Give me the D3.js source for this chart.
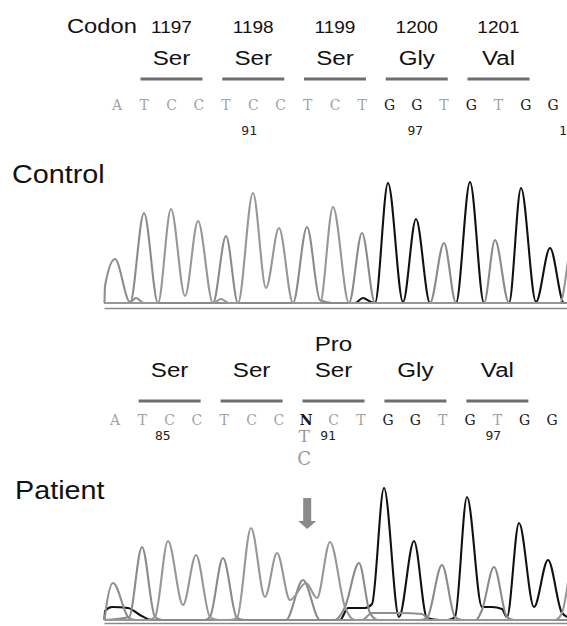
<!DOCTYPE html>
<html>
<head>
<meta charset="utf-8">
<script src="https://cdn.jsdelivr.net/npm/d3@7"></script>
<style>
  body { margin: 0; background: #fff; }
  svg { display: block; }
</style>
</head>
<body>
<script>
// ---- sequence annotation ----
const codonNumbers = ['1197', '1198', '1199', '1200', '1201'];
const aminoControl = ['Ser', 'Ser', 'Ser', 'Gly', 'Val'];
const aminoPatient = ['Ser', 'Ser', 'Ser', 'Gly', 'Val'];
const basesControl = ['A', 'T', 'C', 'C', 'T', 'C', 'C', 'T', 'C', 'T', 'G', 'G', 'T', 'G', 'T', 'G', 'G'];
const basesPatient = ['A', 'T', 'C', 'C', 'T', 'C', 'C', 'N', 'C', 'T', 'G', 'G', 'T', 'G', 'T', 'G', 'G'];
// running numbers: [position in base units, label]
const numbersControl = [[4.85, '91'], [10.95, '97'], [16.65, '103']];
const numbersPatient = [[1.75, '85'], [7.8, '91'], [13.85, '97']];
const mutantBase = 7;          // index of N in patient read
const mutantCalls = ['T', 'C'];
const mutantAmino = 'Pro';

// ---- traces: [scan, signal] ----
const controlA = [[4.5, 0], [5, 170], [15, 440], [30, 10], [36, 50], [44, 0], [470, 0]];
const controlT = [[4.5, 0], [30, 0], [44, 900], [58, 0], [113, 0], [126, 670], [138, 0], [193, 0], [207, 760], [220, 30], [232, 0],
  [249, 0], [262, 700], [275, 0], [330, 0], [344, 600], [356, 0], [384, 0], [395, 630], [409, 0], [470, 0]];
const controlC = [[4.5, 0], [58, 0], [71, 940], [85, 70], [98, 820], [113, 0], [121, 40], [129, 0], [138, 0], [153, 1100], [166, 150],
  [179, 750], [193, 0], [220, 0], [233, 960], [249, 0], [460, 0], [474, 700], [488, 0]];
const controlG = [[4.5, 0], [255, 0], [263, 50], [270, 15], [275, 0], [288, 1200], [303, 10], [316, 840], [330, 0], [356, 0],
  [370, 1210], [384, 0], [409, 0], [421, 1150], [436, 10], [450, 550], [464, 0], [470, 0]];

const patientA = [[4.5, 0], [5, 40], [13, 370], [29, 20], [36, 0], [262, 0], [272, 70], [300, 70], [322, 60], [330, 0], [470, 0]];
const patientT = [[4.5, 0], [29, 30], [42, 730], [55, 30], [62, 0], [105, 0], [110, 30], [123, 620], [137, 20], [145, 0], [186, 0],
  [203, 400], [220, 0], [235, 0], [245, 130], [259, 570], [270, 70], [278, 0], [320, 0], [327, 20], [342, 550], [355, 30],
  [362, 0], [376, 0], [382, 100], [394, 530], [407, 30], [414, 0], [470, 0]];
const patientC = [[4.5, 0], [48, 0], [55, 30], [68, 790], [83, 150], [96, 650], [110, 30], [118, 0], [130, 0], [137, 20], [151, 920],
  [165, 230], [177, 670], [190, 200], [206, 370], [217, 220], [230, 780], [245, 130], [255, 0], [455, 0], [462, 70], [474, 620], [488, 0]];
const patientG = [[4.5, 0], [5, 90], [12, 130], [28, 120], [40, 50], [52, 0], [240, 0], [248, 120], [265, 120], [272, 160],
  [284, 1320], [299, 30], [314, 790], [327, 20], [340, 0], [348, 0], [355, 30], [367, 1230], [382, 130], [392, 130], [402, 110],
  [407, 30], [419, 970], [434, 130], [448, 600], [462, 70], [470, 20]];

const width = 567, height = 626;
const sans = '"Liberation Sans", Arial, Helvetica, sans-serif';

const svg = d3.select('body').append('svg')
  .attr('width', width)
  .attr('height', height);

const scanX = d3.scaleLinear().domain([0, 470]).range([100, 570]);
const yControl = d3.scaleLinear().domain([0, 1300]).range([303, 173]);
const yPatient = d3.scaleLinear().domain([0, 1300]).range([620, 490]);
// base index -> x on the sequence line
const baseControl = d3.scaleLinear().domain([0, 16]).range([117, 553]);
const basePatient = d3.scaleLinear().domain([0, 16]).range([115, 552]);
const codonCenter = (scale, k) => scale(2 + 3 * k);

function label(g, text, x, y, size, anchor, stretch) {
  return g.append('text')
    .attr('transform', `translate(${x},${y}) scale(${stretch || 1.15},1)`)
    .attr('text-anchor', anchor || 'middle')
    .attr('fill', '#111')
    .style('font', `${size}px ${sans}`)
    .text(text);
}

function drawHeader(g, bases, baseScale, amino, numbers, ys) {
  amino.forEach((a, k) => {
    const cx = codonCenter(baseScale, k);
    label(g, a, cx, ys.amino, 21);
    g.append('rect')
      .attr('x', cx - 31)
      .attr('y', ys.bar - 1.5)
      .attr('width', 62)
      .attr('height', 3)
      .attr('fill', '#6e6e6e');
  });

  g.selectAll('text.base')
    .data(bases)
    .enter()
    .append('text')
    .attr('class', 'base')
    .attr('x', (d, i) => baseScale(i))
    .attr('y', ys.base)
    .attr('text-anchor', 'middle')
    .attr('fill', d => d === 'G' || d === 'N' ? '#1a1a1a' : '#a2a2a2')
    .style('font', d => `${d === 'N' ? 'bold ' : ''}14px "DejaVu Serif", serif`)
    .text(d => d);

  g.selectAll('text.num')
    .data(numbers)
    .enter()
    .append('text')
    .attr('class', 'num')
    .attr('x', d => baseScale(d[0]))
    .attr('y', ys.num)
    .attr('text-anchor', 'middle')
    .attr('fill', '#222')
    .style('font', `13px "DejaVu Sans Mono", monospace`)
    .text(d => d[1]);
}

function drawTraces(g, channels, yScale, axisY) {
  const line = d3.line()
    .curve(d3.curveMonotoneX)
    .x(d => scanX(d[0]))
    .y(d => yScale(d[1]));

  g.selectAll('path.trace')
    .data(channels)
    .enter()
    .append('path')
    .attr('class', 'trace')
    .attr('fill', 'none')
    .attr('stroke', d => d.color)
    .attr('stroke-width', 2.1)
    .attr('stroke-linejoin', 'round')
    .attr('d', d => line(d.data));

  const axisScale = d3.scaleLinear().domain([4, 467]).range([scanX(4), scanX(467)]);
  const axis = g.append('g')
    .attr('transform', `translate(0,${axisY})`)
    .call(d3.axisBottom(axisScale).tickValues([]).tickSizeOuter(0));
  axis.select('.domain')
    .attr('stroke', '#8a8a8a')
    .attr('stroke-width', 1.6);
}

// ---- control ----
const controlGroup = svg.append('g');
label(controlGroup, 'Codon', 67, 33, 21, 'start', 1.13);
codonNumbers.forEach((c, k) => label(controlGroup, c, codonCenter(baseControl, k), 33, 17, 'middle', 1.12));
drawHeader(controlGroup, basesControl, baseControl, aminoControl, numbersControl, { amino: 65, bar: 79, base: 110, num: 135 });
label(controlGroup, 'Control', 12, 183, 25, 'start');
drawTraces(controlGroup, [
  { color: '#111', data: controlG },
  { color: '#8e8e8e', data: controlA },
  { color: '#8a8a8a', data: controlT },
  { color: '#979797', data: controlC }
], yControl, 308);

// ---- patient ----
const patientGroup = svg.append('g');
label(patientGroup, mutantAmino, codonCenter(basePatient, 2), 351, 21);
drawHeader(patientGroup, basesPatient, basePatient, aminoPatient, numbersPatient, { amino: 377, bar: 401, base: 425, num: 440 });

const mx = basePatient(mutantBase);
patientGroup.selectAll('text.call')
  .data(mutantCalls)
  .enter()
  .append('text')
  .attr('class', 'call')
  .attr('x', mx - 2)
  .attr('y', (d, i) => 442 + i * 23)
  .attr('text-anchor', 'middle')
  .attr('fill', '#999')
  .style('font', (d, i) => `${17 + i}px "DejaVu Serif", serif`)
  .text(d => d);

patientGroup.append('rect')
  .attr('x', mx - 3)
  .attr('y', 498)
  .attr('width', 8)
  .attr('height', 24)
  .attr('fill', '#8a8a8a');
patientGroup.append('path')
  .attr('d', `M${mx - 8},521 L${mx + 10},521 L${mx + 1},529 Z`)
  .attr('fill', '#8a8a8a');

label(patientGroup, 'Patient', 15, 499, 25, 'start');
drawTraces(patientGroup, [
  { color: '#111', data: patientG },
  { color: '#8e8e8e', data: patientA },
  { color: '#8a8a8a', data: patientT },
  { color: '#979797', data: patientC }
], yPatient, 623);
</script>
</body>
</html>
